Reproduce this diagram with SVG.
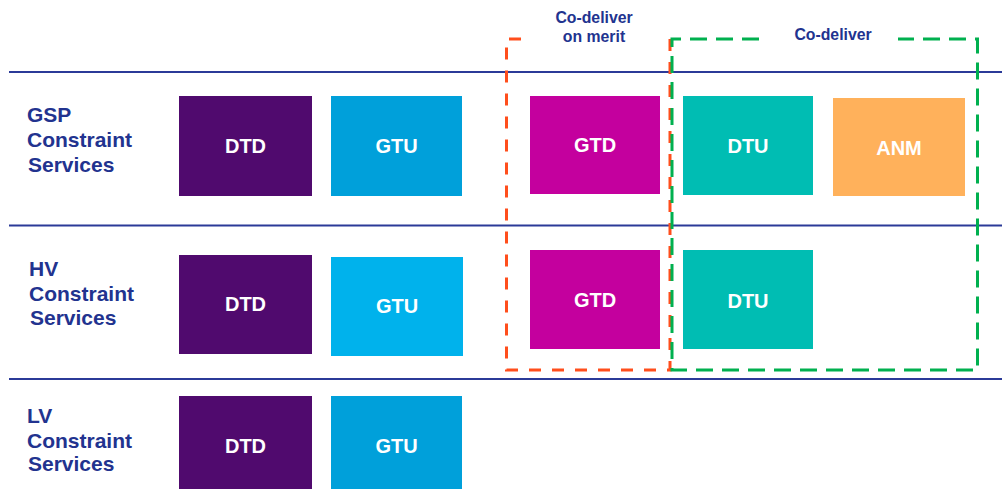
<svg xmlns="http://www.w3.org/2000/svg" width="1002" height="489" viewBox="0 0 1002 489">
  <style>
    .row-label { font-family: "Liberation Sans", Arial, sans-serif; font-weight: bold; font-size: 21px; fill: #22338F; }
    .group-label { font-family: "Liberation Sans", Arial, sans-serif; font-weight: bold; font-size: 15.8px; fill: #22338F; text-anchor: middle; }
    .box-text { font-family: "Liberation Sans", Arial, sans-serif; font-weight: bold; font-size: 20px; fill: #FFFFFF; text-anchor: middle; }
    .divider { stroke: #2B3A98; stroke-width: 2; }
    .dtd { fill: #500A6E; }
    .gtu { fill: #00A0DA; }
    .gtu-hv { fill: #00B2EC; }
    .gtd { fill: #C4009E; }
    .dtu { fill: #00BDB3; }
    .anm { fill: #FFB15B; }
    .merit { fill: none; stroke: #FF4E1C; stroke-width: 3; stroke-dasharray: 12 11; }
    .codeliver { fill: none; stroke: #00B04F; stroke-width: 3; stroke-dasharray: 17 9; }
  </style>

  <!-- row dividers -->
  <g id="dividers">
    <line class="divider" x1="9" y1="72" x2="1002" y2="72"/>
    <line class="divider" x1="9" y1="225.5" x2="1002" y2="225.5"/>
    <line class="divider" x1="9" y1="379" x2="1002" y2="379"/>
  </g>

  <!-- row labels -->
  <g id="label-gsp">
    <text class="row-label" x="27" y="122">GSP</text>
    <text class="row-label" x="27" y="147">Constraint</text>
    <text class="row-label" x="28" y="172">Services</text>
  </g>
  <g id="label-hv">
    <text class="row-label" x="29" y="276">HV</text>
    <text class="row-label" x="29" y="301">Constraint</text>
    <text class="row-label" x="30" y="325">Services</text>
  </g>
  <g id="label-lv">
    <text class="row-label" x="27" y="423">LV</text>
    <text class="row-label" x="27" y="448">Constraint</text>
    <text class="row-label" x="28" y="471">Services</text>
  </g>

  <!-- GSP row -->
  <g id="gsp-dtd">
    <rect class="dtd" x="179" y="96" width="133" height="100"/>
    <text class="box-text" x="245.5" y="153">DTD</text>
  </g>
  <g id="gsp-gtu">
    <rect class="gtu" x="331" y="96" width="131" height="100"/>
    <text class="box-text" x="396.5" y="153">GTU</text>
  </g>
  <g id="gsp-gtd">
    <rect class="gtd" x="530" y="96" width="130" height="98"/>
    <text class="box-text" x="595" y="152">GTD</text>
  </g>
  <g id="gsp-dtu">
    <rect class="dtu" x="683" y="96" width="130" height="99"/>
    <text class="box-text" x="748" y="153">DTU</text>
  </g>
  <g id="gsp-anm">
    <rect class="anm" x="833" y="98" width="132" height="98"/>
    <text class="box-text" x="899" y="155">ANM</text>
  </g>

  <!-- HV row -->
  <g id="hv-dtd">
    <rect class="dtd" x="179" y="255" width="133" height="99"/>
    <text class="box-text" x="245.5" y="311">DTD</text>
  </g>
  <g id="hv-gtu">
    <rect class="gtu-hv" x="331" y="257" width="132" height="99"/>
    <text class="box-text" x="397" y="313">GTU</text>
  </g>
  <g id="hv-gtd">
    <rect class="gtd" x="530" y="250" width="130" height="99"/>
    <text class="box-text" x="595" y="307">GTD</text>
  </g>
  <g id="hv-dtu">
    <rect class="dtu" x="683" y="250" width="130" height="99"/>
    <text class="box-text" x="748" y="308">DTU</text>
  </g>

  <!-- LV row -->
  <g id="lv-dtd">
    <rect class="dtd" x="179" y="396" width="133" height="93"/>
    <text class="box-text" x="245.5" y="453">DTD</text>
  </g>
  <g id="lv-gtu">
    <rect class="gtu" x="331" y="396" width="131" height="93"/>
    <text class="box-text" x="396.5" y="453">GTU</text>
  </g>

  <!-- grouping outlines -->
  <g id="groups">
    <path class="merit" d="M521,39 H506.5 V370 H670 V39 H660"/>
    <path class="codeliver" d="M759,39 H672 V370 H977.5 V39 H898"/>
  </g>

  <g id="group-labels">
    <text class="group-label" x="594" y="23">Co-deliver</text>
    <text class="group-label" x="594" y="42">on merit</text>
    <text class="group-label" x="833" y="40">Co-deliver</text>
  </g>
</svg>
